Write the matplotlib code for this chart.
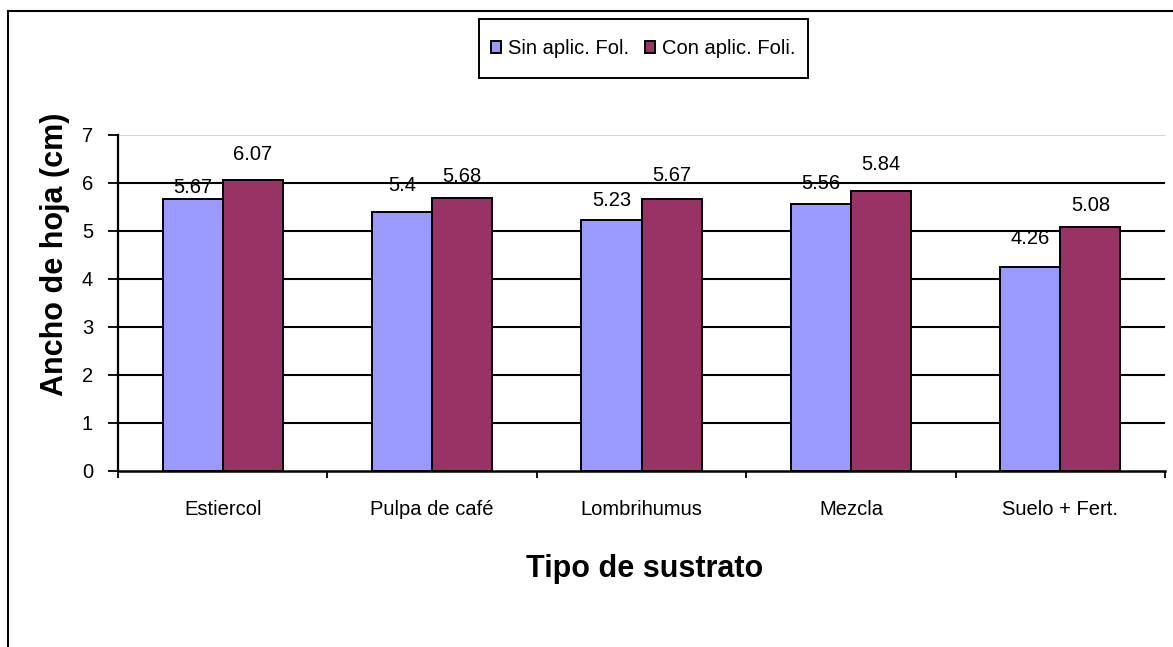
import numpy as np
import matplotlib
matplotlib.use("Agg")
import matplotlib.pyplot as plt
from matplotlib.lines import Line2D
from matplotlib.patches import Rectangle

plt.rcParams['font.family'] = ['Liberation Sans', 'DejaVu Sans']

categories = ["Estiercol", "Pulpa de café", "Lombrihumus", "Mezcla", "Suelo + Fert."]
sin_aplic = [5.67, 5.4, 5.23, 5.56, 4.26]
con_aplic = [6.07, 5.68, 5.67, 5.84, 5.08]
series_names = ["Sin aplic. Fol.", "Con aplic. Foli."]
y_ticks = [0, 1, 2, 3, 4, 5, 6, 7]

COL_SIN = "#9999FF"
COL_CON = "#993366"

fig = plt.figure(figsize=(11.73, 6.47), dpi=100)
W, H = 1173, 647
ax = fig.add_axes([118 / W, 1 - 471 / H, (1165 - 118) / W, (471 - 135) / H])

x = np.arange(len(categories))
bw = 0.287
b1 = ax.bar(x - bw / 2, sin_aplic, bw, color=COL_SIN, edgecolor="black", linewidth=1.4,
            label=series_names[0], zorder=3)
b2 = ax.bar(x + bw / 2, con_aplic, bw, color=COL_CON, edgecolor="black", linewidth=1.4,
            label=series_names[1], zorder=3)

# etiquetas de valor (offset en puntos, como queda en el original)
lbl_off_sin = [1, 12, 7, 8, 13]
lbl_off_con = [11, 9, 10, 12, 9]
for bars, offs in ((b1, lbl_off_sin), (b2, lbl_off_con)):
    for r, off in zip(bars, offs):
        ax.annotate(f"{r.get_height():g}", (r.get_x() + r.get_width() / 2, r.get_height()),
                    xytext=(0, off), textcoords="offset points", ha="center", va="bottom",
                    fontsize=14.5, zorder=2)

ax.set_xlim(-0.5, len(categories) - 0.5)
ax.set_ylim(0, 7)
ax.set_yticks(y_ticks)
for v in y_ticks[1:-1]:
    ax.axhline(v, color="black", lw=1.5, zorder=2.5)
ax.axhline(7, color="#d0d0d0", lw=1.3, zorder=1)

ax.set_xticks(x)
ax.set_xticklabels(categories, fontsize=14.5)
ax.set_xticks(np.arange(len(categories) + 1) - 0.5, minor=True)
ax.tick_params(axis="x", which="major", length=0, pad=21)
ax.tick_params(axis="x", which="minor", length=5, width=1.3, direction="out")
ax.tick_params(axis="y", length=7, width=1.3, direction="out", labelsize=14.5, pad=11)

for s in ("top", "right"):
    ax.spines[s].set_visible(False)
ax.spines["left"].set_linewidth(1.6)
ax.spines["bottom"].set_linewidth(1.8)
ax.spines["bottom"].set_zorder(4)

fig.text(55 / W, 1 - 254 / H, "Ancho de hoja (cm)", rotation=90, ha="center", va="center",
         fontsize=22, fontweight="bold")
fig.text(645 / W, 1 - 569 / H, "Tipo de sustrato", ha="center", va="center",
         fontsize=22, fontweight="bold")

leg = fig.legend(loc="center", bbox_to_anchor=(643.5 / W, 1 - 48.5 / H), ncol=2, fontsize=14.5,
                 frameon=False, handlelength=0.5, handleheight=0.5, handletextpad=0.35,
                 columnspacing=0.8, borderpad=0.4)
for h in leg.legend_handles:
    h.set_linewidth(1.4)
# caja de la leyenda
fig.add_artist(Rectangle((479 / W, 1 - 78 / H), (808 - 479) / W, (78 - 19) / H,
                         transform=fig.transFigure, fill=False, edgecolor="black", lw=1.4))

# marco exterior del grafico (cortado a la derecha y abajo)
fig.add_artist(Line2D([8 / W, 8 / W], [0, 1 - 11 / H], color="black", lw=1.5,
                      transform=fig.transFigure))
fig.add_artist(Line2D([8 / W, 1], [1 - 11 / H, 1 - 11 / H], color="black", lw=1.5,
                      transform=fig.transFigure))

fig.savefig("out.png", dpi=100)
